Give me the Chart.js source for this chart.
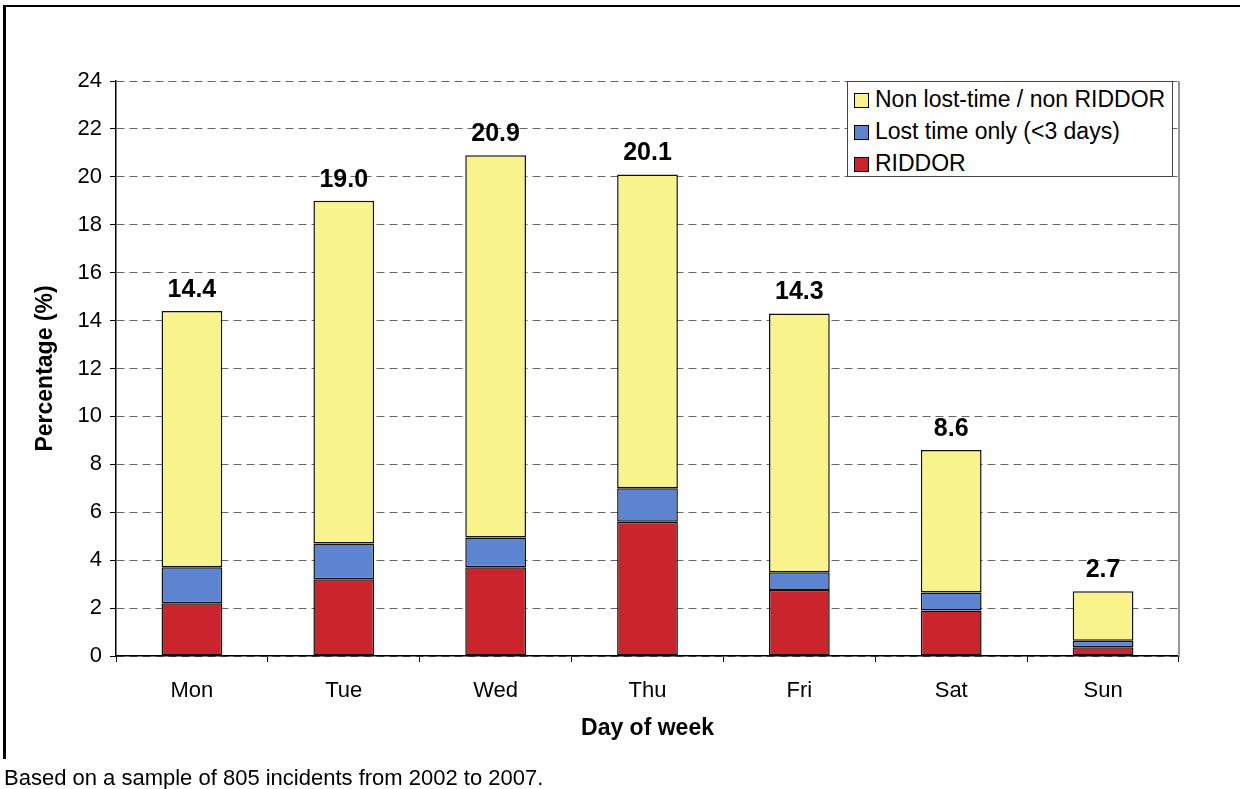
<!DOCTYPE html>
<html>
<head>
<meta charset="utf-8">
<script src="https://cdn.jsdelivr.net/npm/chart.js@4/dist/chart.umd.min.js"></script>
<style>
  html, body { margin: 0; padding: 0; background: #fff; }
  body { width: 1240px; height: 789px; position: relative; overflow: hidden; font-family: "Liberation Sans", Arial, sans-serif; }
  #frame { position: absolute; left: 3px; top: 5px; width: 1300px; height: 752px; border-top: 2px solid #000; border-left: 3px solid #000; }
  #chart { position: absolute; left: 0; top: 0; }
  #legend { position: absolute; left: 847px; top: 81px; width: 324px; height: 94px; border: 1px solid #444; background: #fff; }
  .row { position: absolute; left: 6px; height: 26px; line-height: 26px; font-size: 23px; color: #000; white-space: nowrap; }
  .sw { display: inline-block; width: 13px; height: 13px; border: 1px solid #000; margin-right: 6px; vertical-align: -1px; }
  #note { position: absolute; left: 4px; top: 767px; font-size: 22px; line-height: 22px; color: #000; white-space: nowrap; }
</style>
</head>
<body>
<div id="frame"></div>
<canvas id="chart" width="1240" height="789"></canvas>
<div id="legend"></div>
<div id="note">Based on a sample of 805 incidents from 2002 to 2007.</div>
<script>
const dias = ['Mon', 'Tue', 'Wed', 'Thu', 'Fri', 'Sat', 'Sun'];
const riddor = [2.2, 3.2, 3.7, 5.6, 2.75, 1.9, 0.37];
const lostTime = [1.5, 1.5, 1.25, 1.4, 0.75, 0.75, 0.27];
const naoLost = [10.7, 14.3, 15.95, 13.1, 10.8, 5.95, 2.06];
const yTicks = [0, 2, 4, 6, 8, 10, 12, 14, 16, 18, 20, 22, 24];

const series = [
    { label: 'RIDDOR', data: riddor, cor: '#cc242c' },
    { label: 'Lost time only (<3 days)', data: lostTime, cor: '#5d84d0' },
    { label: 'Non lost-time / non RIDDOR', data: naoLost, cor: '#f8f48b' }
];

const fonte = '"Liberation Sans", Arial, sans-serif';

// legenda em html, ordem invertida (de cima para baixo)
const legendaEl = document.getElementById('legend');
const linhasY = [4, 36, 68];
series.slice().reverse().forEach((s, i) => {
    const row = document.createElement('div');
    row.className = 'row';
    row.style.top = linhasY[i] + 'px';
    row.innerHTML = `<span class="sw" style="background:${s.cor}"></span>`;
    row.appendChild(document.createTextNode(s.label));
    legendaEl.appendChild(row);
});

const totaisPlugin = {
    id: 'totais',
    afterDatasetsDraw(chart) {
        const ctx = chart.ctx;
        const yScale = chart.scales.y;
        const xScale = chart.scales.x;
        ctx.save();
        ctx.font = 'bold 25px ' + fonte;
        ctx.fillStyle = '#000';
        ctx.textAlign = 'center';
        ctx.textBaseline = 'alphabetic';
        dias.forEach((d, i) => {
            const total = riddor[i] + lostTime[i] + naoLost[i];
            const x = xScale.getPixelForValue(i);
            const y = yScale.getPixelForValue(total);
            ctx.fillText(total.toFixed(1), x, y - 14);
        });
        ctx.restore();
    },
    afterDraw(chart) {
        const { ctx, chartArea } = chart;
        ctx.save();
        ctx.strokeStyle = '#999';
        ctx.lineWidth = 2;
        ctx.beginPath();
        ctx.moveTo(chartArea.right, chartArea.top);
        ctx.lineTo(chartArea.right, chartArea.bottom);
        ctx.stroke();
        ctx.restore();
    }
};

const ctx = document.getElementById('chart').getContext('2d');
new Chart(ctx, {
    type: 'bar',
    data: {
        labels: dias,
        datasets: series.map(s => ({
            label: s.label,
            data: s.data,
            backgroundColor: s.cor,
            borderColor: '#111',
            borderWidth: 1.5,
            borderSkipped: false,
            barPercentage: 0.4,
            categoryPercentage: 1
        }))
    },
    options: {
        responsive: false,
        animation: false,
        layout: { padding: { left: 0, top: 81, right: 61, bottom: 0 } },
        scales: {
            x: {
                stacked: true,
                afterFit: s => { s.height = 133; },
                grid: { display: true, drawOnChartArea: false, drawTicks: true, tickLength: 6, tickColor: '#000', tickWidth: 1 },
                border: { color: '#000', width: 1.5 },
                ticks: { color: '#000', font: { family: fonte, size: 22 }, padding: 16 },
                title: { display: true, text: 'Day of week', color: '#000', font: { family: fonte, size: 23, weight: 'bold' }, padding: { bottom: 47 } }
            },
            y: {
                stacked: true,
                min: 0,
                max: 24,
                afterFit: s => { s.width = 116; },
                afterBuildTicks: s => { s.ticks = yTicks.map(v => ({ value: v })); },
                grid: { color: '#666', lineWidth: 1, tickLength: 6, tickColor: '#000', tickBorderDash: [] },
                border: { color: '#000', width: 1.5, dash: [8, 5] },
                ticks: { color: '#000', font: { family: fonte, size: 22 }, padding: 8 },
                title: { display: true, text: 'Percentage (%)', color: '#000', font: { family: fonte, size: 23, weight: 'bold' }, padding: { top: 32 } }
            }
        },
        plugins: {
            legend: { display: false },
            tooltip: { enabled: false }
        }
    },
    plugins: [totaisPlugin]
});
</script>
</body>
</html>
